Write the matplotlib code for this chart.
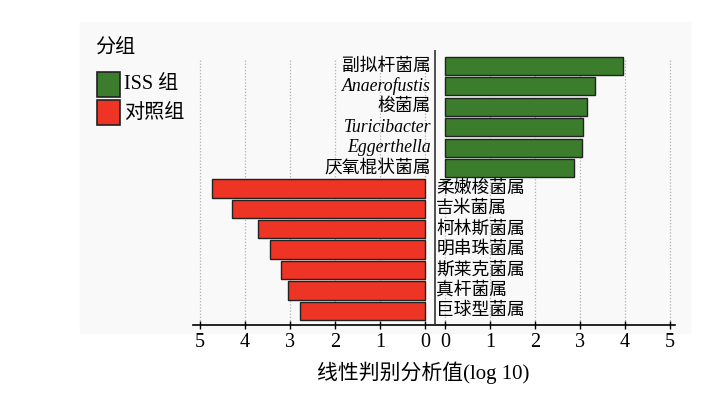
import matplotlib
matplotlib.use("Agg")
import matplotlib.pyplot as plt
from matplotlib.patches import Rectangle

plt.rcParams['font.family'] = ['Liberation Serif', 'Noto Sans CJK SC']

# data (LDA score, log10)
iss_names = ['副拟杆菌属', 'Anaerofustis', '梭菌属', 'Turicibacter', 'Eggerthella', '厌氧棍状菌属']
iss_italic = [False, True, False, True, True, False]
iss_vals = [3.97, 3.33, 3.16, 3.07, 3.04, 2.87]
ctl_names = ['柔嫩梭菌属', '吉米菌属', '柯林斯菌属', '明串珠菌属', '斯莱克菌属', '真杆菌属', '巨球型菌属']
ctl_vals = [4.73, 4.29, 3.71, 3.44, 3.20, 3.04, 2.78]
ticks = [0, 1, 2, 3, 4, 5]
groups = ['ISS 组', '对照组']
green = '#3b7d2c'
red = '#ee3424'

gap = 20 / 45  # offset of the right-hand zero

fig = plt.figure(figsize=(7.23, 3.99), dpi=100)
fig.patches.append(Rectangle((80 / 723, 1 - 333 / 399), 610 / 723, 311 / 399,
                             transform=fig.transFigure, color='#f9f9f9', zorder=-5))
ax = fig.add_axes([193 / 723, 1 - 325 / 399, 482 / 723, 275 / 399])
ax.set_facecolor('none')

n = len(iss_vals) + len(ctl_vals)
ax.set_xlim(-5.16, 5.56)
ax.set_ylim((325 - 66) / 20.4, (50 - 66) / 20.4)

# grid lines
for t in ticks:
    for x in (-t, gap + t):
        ax.vlines(x, -0.3, n - 0.3, color='#b0b0b0', lw=0.9, ls=(0, (1, 1.5)), zorder=1)

# separator
ax.axvline(gap / 2, color='#333333', lw=1.2, zorder=3)

y_iss = list(range(len(iss_vals)))
y_ctl = list(range(len(iss_vals), n))
ax.barh(y_iss, iss_vals, left=gap, height=0.88, color=green, edgecolor='#222222', lw=1, zorder=2)
ax.barh(y_ctl, [-v for v in ctl_vals], left=0, height=0.9, color=red, edgecolor='#222222', lw=1, zorder=2)

for y, name, it in zip(y_iss, iss_names, iss_italic):
    ax.text(gap / 2 - 0.09, y, name, ha='right', va='center', fontsize=12.8,
            style='italic' if it else 'normal', zorder=4)
for y, name in zip(y_ctl, ctl_names):
    ax.text(gap / 2 + 0.03, y, name, ha='left', va='center', fontsize=12.8, zorder=4)

pos = [-t for t in ticks] + [gap + t for t in ticks]
labs = [str(t) for t in ticks] + [str(t) for t in ticks]
ax.set_xticks(pos)
ax.set_xticklabels(labs, fontsize=14.5)
ax.tick_params(axis='x', direction='inout', length=6, width=1, pad=3)
ax.set_yticks([])
for s in ('top', 'left', 'right'):
    ax.spines[s].set_visible(False)
ax.spines['bottom'].set_linewidth(1.2)
ax.set_xlabel('线性判别分析值(log 10)', fontsize=15)
ax.xaxis.set_label_coords((423 - 193) / 482, -37 / 275)

# legend
fig.text(95 / 723, 1 - 48 / 399, '分组', fontsize=14.5, va='center', ha='left')
for i, (g, c) in enumerate(zip(groups, [green, red])):
    top = 72 + i * 28
    fig.patches.append(Rectangle((97 / 723, 1 - (top + 25) / 399), 23 / 723, 25 / 399,
                                 transform=fig.transFigure, facecolor=c,
                                 edgecolor='#222222', lw=1.2))
    fig.text(124 / 723, 1 - (top + 13) / 399, g, fontsize=14.5, va='center', ha='left')

fig.savefig('out.png', dpi=100)
